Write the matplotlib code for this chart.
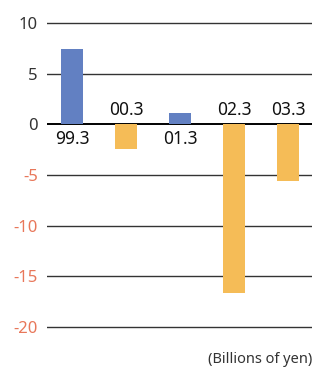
import matplotlib
matplotlib.use("Agg")
import matplotlib.pyplot as plt

plt.rcParams['font.family'] = ['Noto Sans', 'DejaVu Sans']

years = ["99.3", "00.3", "01.3", "02.3", "03.3"]
values = [7.4, -2.4, 1.1, -16.6, -5.6]
yticks = [10, 5, 0, -5, -10, -15, -20]

blue = "#6280C2"
orange = "#F5BC57"
neg_color = "#E8775A"

fig = plt.figure(figsize=(3.13, 3.71), dpi=100)
ax = fig.add_axes([0.150, 0.1132, 0.847, 0.830])

x = list(range(len(years)))
colors = [blue if v >= 0 else orange for v in values]
ax.bar(x, values, width=0.41, color=colors, zorder=3)

for t in yticks:
    lw = 1.4 if t == 0 else 1.0
    c = "#000000" if t == 0 else "#333333"
    ax.axhline(t, color=c, lw=lw, zorder=2)

ax.set_xlim(-0.463, 4.444)
ax.set_ylim(-20.2, 10.2)
ax.set_yticks(yticks)
ax.set_yticklabels([str(t) for t in yticks], fontsize=12)
for lab, t in zip(ax.get_yticklabels(), yticks):
    lab.set_color(neg_color if t < 0 else "#333333")
ax.tick_params(axis='y', length=0, pad=6.5)
ax.set_xticks([])
for s in ax.spines.values():
    s.set_visible(False)

# year labels: below the axis for positive bars, above for negative ones
for xi, v, lab in zip(x, values, years):
    if v >= 0:
        ax.text(xi, -0.55, lab, ha='center', va='top', fontsize=12.5, color="#111111", zorder=4)
    else:
        ax.text(xi, 0.55, lab, ha='center', va='bottom', fontsize=12.5, color="#111111", zorder=4)

# title cut off at the top edge, only the bottoms of the parentheses show
fig.text(0.195, 1.016, "(FY)", ha='left', va='baseline', fontsize=20, fontweight='bold', color="#111111")

fig.text(0.997, 0.012, "(Billions of yen)", ha='right', va='bottom', fontsize=10.5, color="#333333")

fig.savefig("out.png", dpi=100)
